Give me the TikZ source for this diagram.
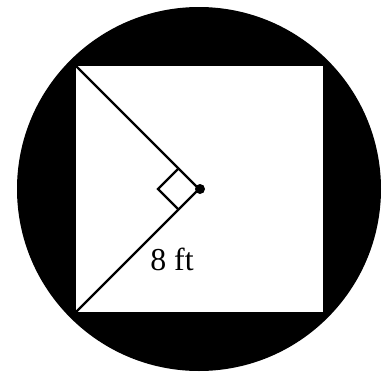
\documentclass[tikz,border=0pt]{standalone}
\usepackage{fontspec}
\setmainfont{Liberation Serif}
\usetikzlibrary{calc}

\begin{document}
\begin{tikzpicture}[x=1bp, y=-1bp, line width=2.4bp, font=\fontsize{32}{38}\selectfont]

	% Area della figura
	\useasboundingbox[fill=white] (0,0) rectangle (383,373);

	% Cerchio nero esterno
	\fill[black] (199,189) circle[radius=182];

	% Quadrato bianco inscritto
	\fill[white] (76,66) rectangle (323,312);

	% Vertici e centro
	\coordinate (alto) at (76,66);
	\coordinate (basso) at (76,312);
	\coordinate (centro) at (199,189);

	% Raggi dal centro agli angoli
	\draw (alto) -- (centro) -- (basso);

	% Angolo retto
	\coordinate (ra) at ($(centro)!29bp!(alto)$);
	\coordinate (rb) at ($(centro)!29bp!(basso)$);
	\draw (ra) -- ($(ra)+(rb)-(centro)$) -- (rb);

	% Punto centrale
	\fill (centro) ++(1,0) circle[radius=5];

	% Etichetta della misura
	\node (misura) at (172,259) {8 ft};

\end{tikzpicture}
\end{document}
